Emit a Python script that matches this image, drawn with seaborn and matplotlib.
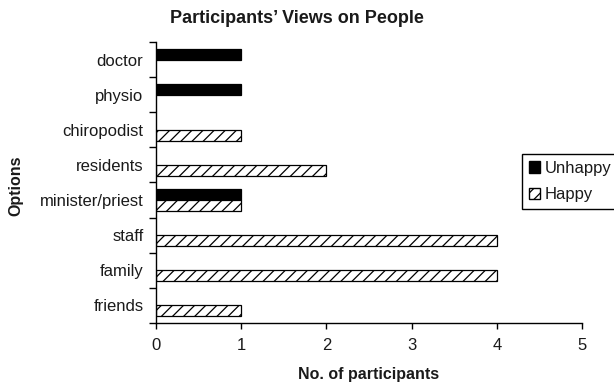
import matplotlib
matplotlib.use("Agg")
import matplotlib.pyplot as plt
from matplotlib.patches import Patch
from matplotlib.ticker import FixedLocator, NullFormatter
import pandas as pd
import seaborn as sns

# Responses per person group
options = ["doctor", "physio", "chiropodist", "residents",
           "minister/priest", "staff", "family", "friends"]
unhappy = [1, 1, 0, 0, 1, 0, 0, 0]
happy = [0, 0, 1, 2, 1, 4, 4, 1]
views = ["Unhappy", "Happy"]
x_ticks = [0, 1, 2, 3, 4, 5]

rows = []
for opt, u, h in zip(options, unhappy, happy):
    if u:
        rows.append({"Option": opt, "View": "Unhappy", "Count": u})
    if h:
        rows.append({"Option": opt, "View": "Happy", "Count": h})
df = pd.DataFrame(rows)

sns.set_style("white")
plt.rcParams["font.family"] = ["Liberation Sans", "DejaVu Sans"]
plt.rcParams["hatch.linewidth"] = 0.9
TEXT = "#1a1a1a"
FS = 12

fig = plt.figure(figsize=(6.14, 3.83), dpi=100)
ax = fig.add_axes([0.254, 0.157, 0.694, 0.733])

sns.barplot(data=df, y="Option", x="Count", hue="View",
            order=options, hue_order=views, orient="h",
            width=0.63, dodge=True, ax=ax, legend=False,
            edgecolor="black", linewidth=0.9)

# Style the two series: solid black and white with diagonal hatching
for bar in ax.containers[0]:
    bar.set_facecolor("black")
    bar.set_edgecolor("black")
for bar in ax.containers[1]:
    bar.set_facecolor("white")
    bar.set_edgecolor("black")
    bar.set_hatch("///")

ax.set_xlim(0, 5)
ax.set_ylim(len(options) - 0.5, -0.5)
ax.set_xticks(x_ticks)
ax.set_xticklabels([str(t) for t in x_ticks], fontsize=FS, color=TEXT)

# Category labels at centres, tick marks on the boundaries between them
ax.set_yticks(range(len(options)))
ax.set_yticklabels(options, fontsize=FS, color=TEXT)
ax.tick_params(axis="y", which="major", length=0, pad=9)
ax.yaxis.set_minor_locator(FixedLocator([i - 0.5 for i in range(len(options) + 1)]))
ax.yaxis.set_minor_formatter(NullFormatter())
ax.tick_params(axis="y", which="minor", length=5, width=1, color="black", left=True)
ax.tick_params(axis="x", which="major", length=4, width=1, color="black",
               bottom=True, pad=7)

for side in ["top", "right"]:
    ax.spines[side].set_visible(False)
for side in ["left", "bottom"]:
    ax.spines[side].set_color("black")
    ax.spines[side].set_linewidth(1)

ax.set_xlabel("No. of participants", fontsize=11.5, fontweight="bold",
              color=TEXT, labelpad=10)
ax.set_ylabel("Options", fontsize=11.5, fontweight="bold", color=TEXT)
ax.yaxis.set_label_coords(-0.31, 0.49)
fig.text(0.484, 0.953, "Participants\u2019 Views on People", fontsize=13,
         fontweight="bold", color=TEXT, ha="center", va="center")

handles = [Patch(facecolor="black", edgecolor="black", label="Unhappy"),
           Patch(facecolor="white", edgecolor="black", hatch="///", label="Happy")]
leg = ax.legend(handles=handles, loc="upper left",
                bbox_to_anchor=(0.859, 0.601), fontsize=FS,
                frameon=True, fancybox=False, framealpha=1,
                edgecolor="black", handlelength=0.7, handleheight=0.7,
                handletextpad=0.25, borderpad=0.4, labelspacing=0.7,
                borderaxespad=0)
leg.get_frame().set_linewidth(1)
for t in leg.get_texts():
    t.set_color(TEXT)

fig.savefig("out.png", dpi=100)
